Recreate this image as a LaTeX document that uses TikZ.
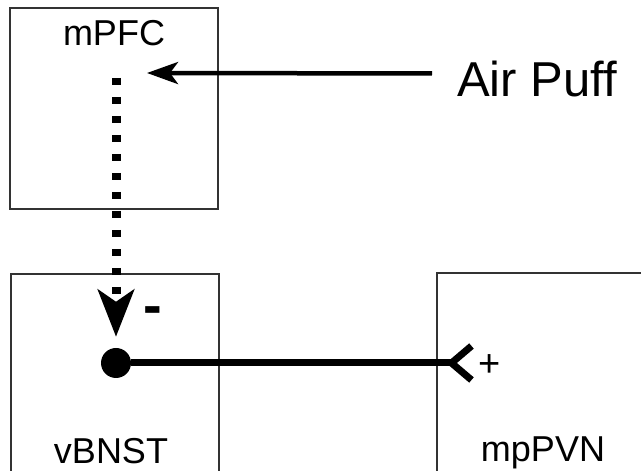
\documentclass[tikz,border=0pt]{standalone}
\usepackage{fontspec}
\setmainfont{Liberation Sans}
\usetikzlibrary{arrows.meta,positioning}

\begin{document}
\begin{tikzpicture}[x=1pt, y=1pt,
  region/.style={draw=black!80, line width=1.6pt, inner sep=0pt},
  lab/.style={font=\fontsize{36}{40}\selectfont, inner sep=0pt},
  hub/.style={circle, fill, minimum size=30pt, inner sep=0pt},
  inhib/.style={line width=9pt, dash pattern=on 7pt off 12pt,
                -{Stealth[length=47pt, width=36pt, inset=12pt]}},
  excit/.style={line width=7pt, -{Straight Barb[reversed, length=20pt, width=34pt]}},
  puff/.style={line width=4.5pt, -{Stealth[length=31pt, width=22pt, inset=8pt]}}
]
  \useasboundingbox (0,0) rectangle (641,471);
  \clip (0,0) rectangle (641,471);

  \node[region, minimum width=208pt, minimum height=201pt] (mPFC) at (114,362.5) {};
  \node[region, minimum width=208pt, minimum height=240pt, anchor=north west] (vBNST) at (10,198) {};
  \node[region, minimum width=240pt, minimum height=240pt, anchor=north west] (mpPVN) at (436,199) {};

  \node[lab, below=13pt of mPFC.north] (tPFC) {mPFC};
  \node[lab, anchor=base] (tBNST) at (111,7) {vBNST};
  \node[lab, anchor=base] (tPVN) at (543,9) {mpPVN};

  \node[font=\fontsize{49}{56}\selectfont, inner sep=0pt, anchor=base west] (air) at (457,374) {Air Puff};
  \coordinate (puffend) at (147,398);
  \draw[puff] ([shift={(-25,6)}]air.west) -- (puffend);

  \node[hub] (hub) at (116,108) {};
  \coordinate (pfcout) at (116,393);
  \draw[inhib] (pfcout) -- ([yshift=11pt]hub.north);
  \node[font=\fontsize{56}{60}\selectfont\bfseries, inner sep=0pt] (minus) at (153,155) {-};

  \coordinate (pvnin) at (475,108);
  \draw[excit] (hub) -- (pvnin);
  \node[font=\fontsize{38}{42}\selectfont, inner sep=0pt] (plus) at (490,105) {+};
\end{tikzpicture}
\end{document}
